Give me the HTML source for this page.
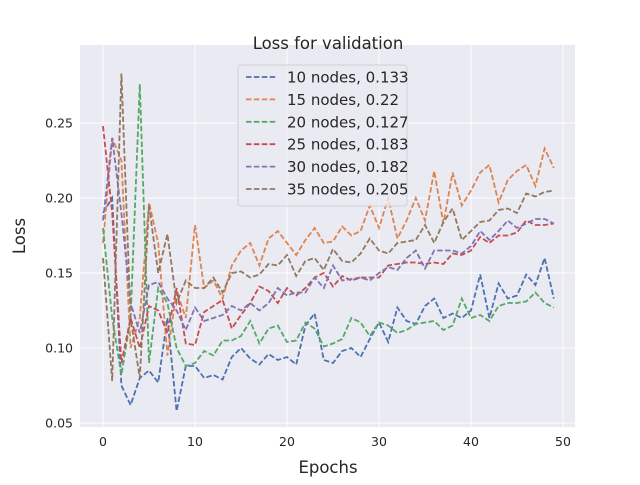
<!DOCTYPE html>
<html><head><meta charset="utf-8"><style>
body{margin:0;background:#fff;font-family:"Liberation Sans","DejaVu Sans",sans-serif;}
svg text{font-family:"DejaVu Sans","Liberation Sans",sans-serif;fill:#262626;}
</style></head><body>
<svg id="chart" width="640" height="480">
<rect x="80" y="45" width="495" height="382" fill="#eaeaf2"/>
<g id="grid"></g><g id="series"></g><g id="ticks"></g>
<text x="328" y="49" text-anchor="middle" font-size="16.5">Loss for validation</text>
<text x="328" y="473" text-anchor="middle" font-size="16.5">Epochs</text>
<text x="25" y="236" text-anchor="middle" font-size="16.5" transform="rotate(-90 25 236)">Loss</text>
<g id="legend"></g>
</svg>
<script>
const labels=["10 nodes, 0.133","15 nodes, 0.22","20 nodes, 0.127","25 nodes, 0.183","30 nodes, 0.182","35 nodes, 0.205"];
const colors=["#4c72b0","#dd8452","#55a868","#c44e52","#8172b3","#937860"];
const s10=[0.19,0.20,0.075,0.062,0.08,0.085,0.077,0.12,0.058,0.088,0.088,0.08,0.082,0.079,0.094,0.10,0.093,0.089,0.096,0.092,0.094,0.089,0.115,0.123,0.092,0.09,0.098,0.1,0.094,0.106,0.117,0.104,0.127,0.118,0.116,0.128,0.133,0.12,0.123,0.12,0.125,0.149,0.12,0.143,0.133,0.135,0.149,0.142,0.16,0.133];
const s15=[0.17,0.24,0.225,0.1,0.12,0.197,0.17,0.095,0.138,0.12,0.182,0.14,0.145,0.133,0.155,0.165,0.17,0.155,0.173,0.178,0.17,0.162,0.172,0.18,0.17,0.171,0.181,0.175,0.178,0.195,0.18,0.2,0.173,0.185,0.2,0.185,0.218,0.183,0.217,0.195,0.205,0.217,0.222,0.197,0.212,0.218,0.222,0.208,0.233,0.22];
const s20=[0.18,0.12,0.082,0.12,0.276,0.09,0.14,0.13,0.1,0.088,0.09,0.098,0.095,0.105,0.105,0.108,0.118,0.103,0.113,0.115,0.104,0.105,0.117,0.113,0.101,0.103,0.106,0.12,0.117,0.108,0.117,0.115,0.11,0.112,0.116,0.117,0.118,0.112,0.115,0.133,0.12,0.122,0.118,0.128,0.13,0.13,0.131,0.137,0.13,0.127];
const s25=[0.248,0.19,0.09,0.12,0.1,0.128,0.125,0.11,0.14,0.103,0.102,0.124,0.128,0.132,0.113,0.122,0.13,0.141,0.138,0.13,0.14,0.135,0.14,0.147,0.15,0.141,0.148,0.145,0.147,0.147,0.147,0.155,0.156,0.157,0.157,0.156,0.157,0.156,0.163,0.162,0.165,0.174,0.17,0.175,0.175,0.177,0.185,0.182,0.182,0.183];
const s30=[0.185,0.24,0.19,0.13,0.11,0.142,0.144,0.133,0.125,0.112,0.127,0.118,0.12,0.122,0.128,0.125,0.13,0.125,0.13,0.14,0.135,0.137,0.137,0.147,0.14,0.155,0.145,0.146,0.147,0.145,0.15,0.154,0.152,0.16,0.165,0.153,0.165,0.165,0.165,0.163,0.168,0.178,0.172,0.178,0.185,0.18,0.183,0.186,0.186,0.183];
const s35=[0.16,0.078,0.283,0.12,0.08,0.195,0.15,0.176,0.13,0.145,0.14,0.14,0.147,0.137,0.15,0.151,0.147,0.149,0.156,0.155,0.162,0.148,0.158,0.16,0.152,0.166,0.158,0.157,0.163,0.173,0.165,0.163,0.17,0.171,0.172,0.182,0.17,0.184,0.193,0.172,0.178,0.184,0.185,0.192,0.193,0.19,0.203,0.201,0.204,0.205];
const xTicks=[0,10,20,30,40,50];
const yTicks=[0.05,0.10,0.15,0.20,0.25];
const allSeries=[s10,s15,s20,s25,s30,s35];
const NS="http://www.w3.org/2000/svg";
function X(e){return 103+e*9.2;}
function Y(v){return 423-(v-0.05)*1500;}
function mk(t,a,p){const el=document.createElementNS(NS,t);for(const k in a)el.setAttribute(k,a[k]);p.appendChild(el);return el;}
const grid=document.getElementById('grid'),ticks=document.getElementById('ticks'),ser=document.getElementById('series'),leg=document.getElementById('legend');
xTicks.forEach(t=>{const g=mk('line',{x1:X(t),x2:X(t),y1:45,y2:427,stroke:'#fff','stroke-width':1},grid);


const tx=mk('text',{x:X(t),y:446,'text-anchor':'middle','font-size':12.5},ticks);tx.textContent=t;

});
yTicks.forEach(t=>{const g=mk('line',{x1:80,x2:575,y1:Y(t),y2:Y(t),stroke:'#fff','stroke-width':1},grid);


const tx=mk('text',{x:73,y:Y(t)+4.5,'text-anchor':'end','font-size':12.5},ticks);tx.textContent=t.toFixed(2);

});
allSeries.forEach((s,i)=>{const p=mk('polyline',{points:s.map((v,j)=>X(j)+','+Y(v)).join(' '),fill:'none',stroke:colors[i],'stroke-width':1.8,'stroke-dasharray':'5.5,2.4'},ser);

});
mk('rect',{x:238,y:65,width:169,height:141,rx:3,fill:'#eaeaf2','fill-opacity':0.8,stroke:'#d0d0d8'},leg);
labels.forEach((l,i)=>{const y=77+i*22.4;
const ln=mk('line',{x1:246,x2:276,y1:y,y2:y,stroke:colors[i],'stroke-width':1.8,'stroke-dasharray':'5.5,2.4'},leg);


const tx=mk('text',{x:287,y:y+5.5,'font-size':15},leg);tx.textContent=l;

});
</script>
</body></html>
